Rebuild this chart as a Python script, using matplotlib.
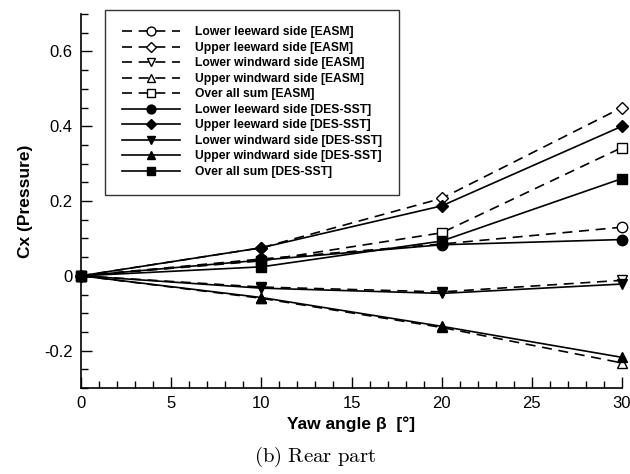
import numpy as np
import matplotlib
matplotlib.use('Agg')
import matplotlib.pyplot as plt
from matplotlib.ticker import MultipleLocator

plt.rcParams['font.family'] = ['Liberation Sans', 'DejaVu Sans']
plt.rcParams['mathtext.fontset'] = 'cm'

# Yaw angle [deg]
yaw = [0, 10, 20, 30]

# EASM
easm_lower_lee = [0, 0.045, 0.085, 0.13]
easm_upper_lee = [0, 0.075, 0.207, 0.45]
easm_lower_wind = [0, -0.03, -0.043, -0.012]
easm_upper_wind = [0, -0.06, -0.138, -0.233]
easm_sum = [0, 0.04, 0.115, 0.343]

# DES-SST
des_lower_lee = [0, 0.042, 0.083, 0.097]
des_upper_lee = [0, 0.075, 0.187, 0.40]
des_lower_wind = [0, -0.033, -0.047, -0.022]
des_upper_wind = [0, -0.058, -0.135, -0.218]
des_sum = [0, 0.024, 0.093, 0.26]

labels = ["Lower leeward side", "Upper leeward side", "Lower windward side",
          "Upper windward side", "Over all sum"]
markers = ['o', 'D', 'v', '^', 's']
msizes = [7.5, 6.5, 7.5, 7.5, 6.5]

fig = plt.figure(figsize=(6.3, 4.74), dpi=100)
ax = fig.add_axes([0.1286, 0.1814, 0.8587, 0.789])

easm = [easm_lower_lee, easm_upper_lee, easm_lower_wind, easm_upper_wind, easm_sum]
des = [des_lower_lee, des_upper_lee, des_lower_wind, des_upper_wind, des_sum]

for lab, m, ms, y in zip(labels, markers, msizes, easm):
    ax.plot(yaw, y, color='black', ls=(0, (6, 4)), lw=1.2, marker=m, ms=ms,
            mfc='white', mec='black', mew=1.0, label=f"{lab} [EASM]", clip_on=False)
for lab, m, ms, y in zip(labels, markers, msizes, des):
    ax.plot(yaw, y, color='black', ls='-', lw=1.2, marker=m, ms=ms,
            mfc='black', mec='black', label=f"{lab} [DES-SST]", clip_on=False)

ax.set_xlim(0, 30)
ax.set_ylim(-0.3, 0.7)
ax.xaxis.set_major_locator(MultipleLocator(5))
ax.xaxis.set_minor_locator(MultipleLocator(1))
ax.yaxis.set_minor_locator(MultipleLocator(0.05))
ax.set_yticks([-0.2, 0, 0.2, 0.4, 0.6])
ax.set_yticklabels(['-0.2', '0', '0.2', '0.4', '0.6'])
ax.tick_params(which='both', direction='in', labelsize=12, width=1.0, pad=6)
ax.tick_params(which='major', length=8)
ax.tick_params(which='minor', length=5)
ax.spines['top'].set_visible(False)
ax.spines['right'].set_visible(False)
for s in ['left', 'bottom']:
    ax.spines[s].set_linewidth(1.2)

ax.set_xlabel("Yaw angle β  [°]", fontsize=12.5, fontweight='bold', labelpad=4)
ax.set_ylabel("Cx (Pressure)", fontsize=12.5, fontweight='bold', labelpad=8)

leg = ax.legend(loc='upper left', bbox_to_anchor=(0.044, 1.012),
                prop={'weight': 'bold', 'size': 8.7}, frameon=True, fancybox=False,
                edgecolor='black', handlelength=4.8, handletextpad=1.3,
                labelspacing=0.29, borderpad=1.4, markerscale=0.85, borderaxespad=0)
leg.get_frame().set_linewidth(1.0)

fig.text(0.5, 0.01, r"$\mathrm{(b)\ Rear\ part}$", ha='center', va='bottom', fontsize=15)

fig.savefig("out.png", dpi=100)
